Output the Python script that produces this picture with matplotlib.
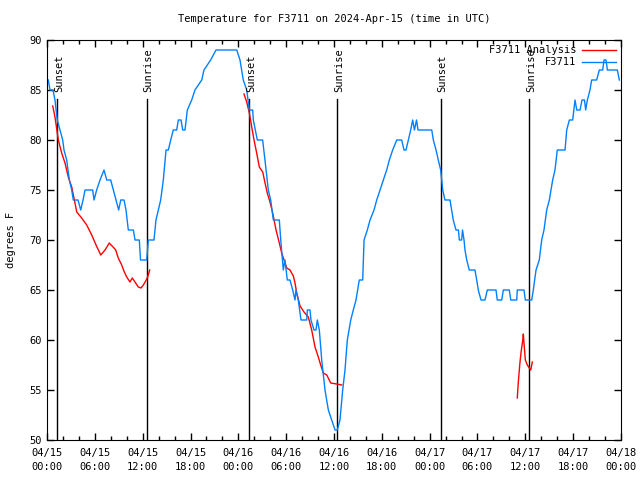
import matplotlib
matplotlib.use("Agg")
import matplotlib.pyplot as plt
import numpy as np

plt.rcParams['font.family'] = ['DejaVu Sans Mono']

# hours since 2024-04-15 00:00 UTC, temperature in degrees F
obs_hours = [0.16, 0.38, 0.75, 1.0, 1.29, 1.63, 1.97, 2.13, 2.47, 2.80, 3.10, 3.30, 3.89,
             4.23, 4.52, 4.77, 5.73, 5.90, 6.23, 6.65, 7.15, 7.49, 7.99, 8.32, 8.66, 8.99,
             9.25, 9.66, 9.91, 10.2, 10.83, 11.04, 11.58, 11.73, 12.51, 12.71, 13.42, 13.67,
             13.96, 14.26, 14.59, 14.93, 15.22, 15.52, 15.84, 16.27, 16.47, 16.81, 17.02,
             17.31, 17.60, 18.15, 18.56, 19.41, 19.69, 20.53, 21.20, 23.80, 24.21, 24.62,
             25.05, 25.38, 25.80, 25.88, 26.38, 27.05, 27.34, 27.76, 28.06, 28.39, 29.14,
             29.32, 29.64, 29.85, 30.14, 30.48, 30.82, 31.11, 31.23, 31.52, 31.86, 32.58,
             32.66, 32.99, 33.11, 33.49, 33.74, 33.91, 34.16, 34.46, 34.87, 35.29, 35.71,
             36.13, 36.42, 36.75, 37.09, 37.38, 37.67, 38.10, 38.42, 38.76, 39.17, 39.60,
             39.77, 40.18, 40.52, 41.02, 41.36, 41.77, 42.19, 42.61, 42.94, 43.36, 43.87,
             44.49, 44.78, 45.03, 45.32, 45.62, 45.87, 46.09, 46.35, 46.54, 48.26, 48.46,
             48.80, 49.08, 49.38, 49.64, 49.92, 50.55, 50.76, 50.96, 51.30, 51.61, 51.72,
             52.01, 52.12, 52.31, 52.43, 52.65, 52.97, 53.68, 53.90, 54.10, 54.44, 54.94,
             55.23, 56.32, 56.48, 57.04, 57.24, 57.99, 58.17, 58.92, 58.99, 59.83, 60.00,
             60.80, 61.00, 61.34, 61.75, 62.05, 62.34, 62.68, 63.01, 63.43, 63.72, 64.01,
             64.98, 65.19, 65.52, 65.94, 66.23, 66.45, 66.86, 67.11, 67.42, 67.57, 67.78,
             68.11, 68.32, 68.95, 69.28, 69.71, 69.87, 70.12, 70.29, 71.54, 71.79]
obs_temp = [86, 85, 85, 84, 82, 81, 80, 79, 78, 76, 75, 74, 74,
            73, 74, 75, 75, 74, 75, 76, 77, 76, 76, 75, 74, 73,
            74, 74, 73, 71, 71, 70, 70, 68, 68, 70, 70, 72,
            73, 74, 76, 79, 79, 80, 81, 81, 82, 82, 81,
            81, 83, 84, 85, 86, 87, 88, 89, 89, 88, 86,
            85, 83, 83, 82, 80, 80, 78, 75, 74, 72, 72,
            70, 67, 68, 66, 66, 65, 64, 65, 64, 62, 62,
            63, 63, 62, 61, 61, 62, 61, 58, 55, 53, 52,
            51, 51, 52, 55, 57, 60, 62, 63, 64, 66, 66,
            70, 71, 72, 73, 74, 75, 76, 77, 78, 79, 80,
            80, 79, 79, 80, 81, 82, 81, 82, 81, 81, 80,
            79, 78, 77, 75, 74, 74, 73, 72, 71, 71, 70,
            70, 71, 70, 69, 68, 67, 67, 66, 65, 64, 64,
            65, 65, 64, 64, 65, 65, 64, 64, 65, 65, 64,
            64, 65, 67, 68, 70, 71, 73, 74, 76, 77, 79,
            79, 81, 82, 82, 84, 83, 83, 84, 84, 83, 84,
            85, 86, 86, 87, 87, 88, 88, 87, 87, 86]

ana1_hours = [0.72, 1.0, 1.42, 1.84, 2.26, 2.67, 3.10, 3.51, 3.73, 4.35, 4.98, 5.61, 6.15,
              6.74, 7.28, 7.81, 8.40, 8.62, 8.94, 9.37, 9.70, 10.0, 10.41, 10.70, 11.04,
              11.45, 11.79, 12.08, 12.38, 12.63, 12.88]
ana1_temp = [83.4, 82.3, 80, 78.7, 77.7, 76.3, 75.3, 73.7, 72.8, 72.2, 71.5, 70.5, 69.5,
             68.5, 69, 69.7, 69.2, 69, 68.2, 67.5, 66.8, 66.3, 65.8, 66.2, 65.8,
             65.3, 65.2, 65.5, 65.9, 66.3, 67]
ana2_hours = [24.71, 25.05, 25.38, 25.68, 25.97, 26.30, 26.63, 27.06, 27.35, 27.63, 27.97,
              28.31, 28.73, 29.14, 29.44, 29.73, 30.07, 30.48, 30.90, 31.11, 31.32, 31.74,
              32.24, 32.78, 33.20, 33.62, 34.03, 34.33, 34.66, 35.09, 35.59, 36.34, 36.97]
ana2_temp = [84.6, 83.8, 82.7, 81.3, 80, 78.7, 77.3, 76.8, 75.7, 74.7, 73.8,
             72.7, 71, 69.7, 68.7, 68, 67.2, 67, 66.4, 65.7, 64.7, 63.4,
             62.8, 62.3, 61, 59.3, 58.3, 57.5, 56.7, 56.5, 55.7, 55.6, 55.5]
ana3_hours = [58.99, 59.12, 59.33, 59.50, 59.68, 59.75, 59.87, 60.00, 60.25, 60.50, 60.68, 60.88]
ana3_temp = [54.2, 55.8, 57.8, 59, 60, 60.6, 59.3, 58, 57.5, 57.2, 57, 57.8]

sun_hours = [1.30, 12.5, 25.38, 36.42, 49.38, 60.5]
sun_names = ["Sunset", "Sunrise", "Sunset", "Sunrise", "Sunset", "Sunrise"]

tick_hours = list(range(0, 73, 6))
tick_labels = ["04/15\n00:00", "04/15\n06:00", "04/15\n12:00", "04/15\n18:00",
               "04/16\n00:00", "04/16\n06:00", "04/16\n12:00", "04/16\n18:00",
               "04/17\n00:00", "04/17\n06:00", "04/17\n12:00", "04/17\n18:00",
               "04/18\n00:00"]

fig = plt.figure(figsize=(6.4, 4.8), dpi=100)
ax = fig.add_axes([47/640, 40/480, 574/640, 400/480])

red = '#ff0000'
blue = '#0080ff'

for t, name in zip(sun_hours, sun_names):
    ax.plot([t, t], [50, 84.1], color='black', lw=1)
    ax.text(t + 0.25, 84.8, name, rotation=90, ha='center', va='bottom', fontsize=7.5)

ax.plot(ana1_hours, ana1_temp, color=red, lw=1, label='F3711 Analysis')
ax.plot(ana2_hours, ana2_temp, color=red, lw=1)
ax.plot(ana3_hours, ana3_temp, color=red, lw=1)
ax.plot(obs_hours, obs_temp, color=blue, lw=1, label='F3711')

ax.set_xlim(0, 72)
ax.set_ylim(50, 90)
ax.set_xticks(tick_hours)
ax.set_xticklabels(tick_labels, linespacing=1.5)
ax.set_xticks(np.arange(0, 73, 2), minor=True)
ax.set_yticks(range(50, 91, 5))
ax.tick_params(which='both', direction='in', top=True, right=True, labelsize=7.5, width=1)
ax.tick_params(which='major', length=5)
ax.tick_params(which='minor', length=3)
ax.tick_params(axis='x', pad=6)

ax.set_ylabel('degrees F', fontsize=7.5, labelpad=10)
ax.set_title('Temperature for F3711 on 2024-Apr-15 (time in UTC)', fontsize=7.5, pad=13)

ax.legend(loc='upper right', frameon=False, markerfirst=False, fontsize=7.5,
          handlelength=3.2, borderaxespad=0.1, labelspacing=0.2, handletextpad=0.6)

fig.savefig('out.png', dpi=100)
